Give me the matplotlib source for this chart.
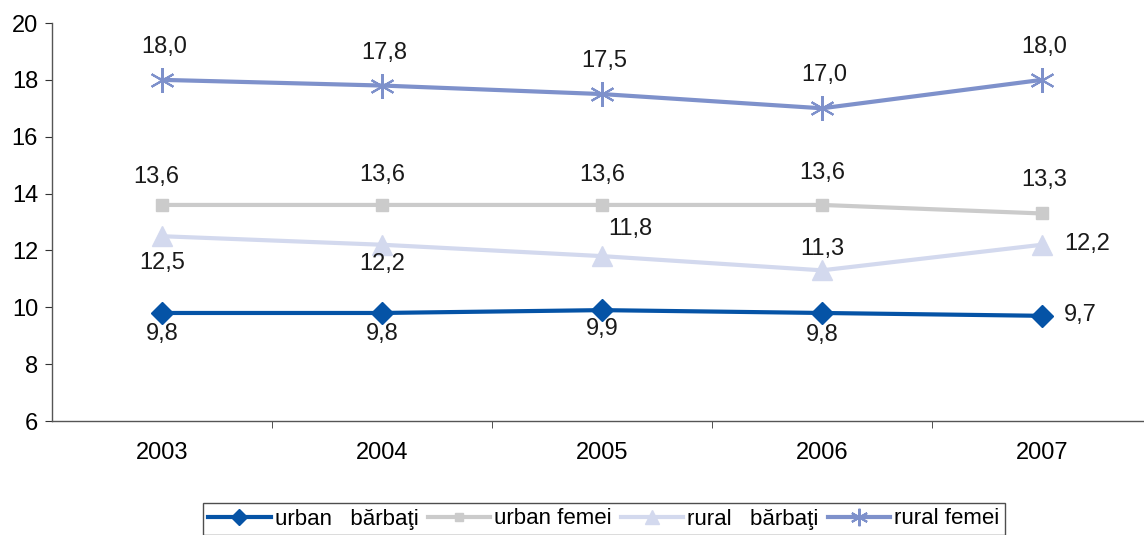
import matplotlib.pyplot as plt
from matplotlib.ticker import FixedLocator

plt.rcParams['font.family'] = ['Liberation Sans', 'DejaVu Sans']

years = ['2003', '2004', '2005', '2006', '2007']
urban_barbati = [9.8, 9.8, 9.9, 9.8, 9.7]
urban_femei = [13.6, 13.6, 13.6, 13.6, 13.3]
rural_barbati = [12.5, 12.2, 11.8, 11.3, 12.2]
rural_femei = [18.0, 17.8, 17.5, 17.0, 18.0]

x = list(range(len(years)))

fig = plt.figure(figsize=(11.44, 5.35), dpi=100)
ax = fig.add_axes([52 / 1144, 1 - 421 / 535, 1 - 52 / 1144, (421 - 23) / 535])

# serii
ax.plot(x, urban_barbati, color='#0553A6', lw=3, marker='D', ms=11, label='urban   bărbaţi', zorder=5)
ax.plot(x, urban_femei, color='#CBCBCB', lw=3, marker='s', ms=8, label='urban femei', zorder=3)
ax.plot(x, rural_barbati, color='#D3D9EE', lw=3, marker='^', ms=15, label='rural   bărbaţi', zorder=4)
ax.plot(x, rural_femei, color='#7E91CB', lw=3, marker=(6, 2, 0), ms=18, mew=1.5, label='rural femei', zorder=3)

# etichete
def fmt(v):
    return f'{v:.1f}'.replace('.', ',')

offs_rf = [(2, 33)] * 5
offs_uf = [(-6, 28), (0, 30), (0, 30), (0, 32), (2, 33)]
offs_rb = [(0, -27), (0, -19), (28, 27), (0, 21), (45, 1)]
offs_ub = [(0, -21), (0, -21), (0, -19), (0, -22), (38, 1)]
for vals, offs in [(rural_femei, offs_rf), (urban_femei, offs_uf),
                   (rural_barbati, offs_rb), (urban_barbati, offs_ub)]:
    for i, v in enumerate(vals):
        ax.annotate(fmt(v), (i, v), textcoords='offset pixels', xytext=offs[i],
                    ha='center', va='center', fontsize=17, color='#1a1a1a', zorder=6)

ax.set_ylim(6, 20)
ax.set_yticks(range(6, 21, 2))
ax.set_xlim(-0.5, (1144 - 52) / 220 - 0.5)
ax.set_xticks(x)
ax.set_xticklabels(years)
ax.xaxis.set_minor_locator(FixedLocator([0.5, 1.5, 2.5, 3.5]))
ax.tick_params(axis='x', which='major', length=0, pad=15, labelsize=17)
ax.tick_params(axis='x', which='minor', length=5, color='#333333')
ax.tick_params(axis='y', length=5, labelsize=17, color='#333333', pad=5)

for s in ['top', 'right']:
    ax.spines[s].set_visible(False)
for s in ['left', 'bottom']:
    ax.spines[s].set_color('#555555')
    ax.spines[s].set_linewidth(1)

leg = fig.legend(loc='center', bbox_to_anchor=(604 / 1144, 1 - 519 / 535), ncol=4,
                 frameon=True, fancybox=False, edgecolor='#222222', fontsize=16,
                 handlelength=2.8, handletextpad=0.2, columnspacing=0.4,
                 borderpad=0.25, markerscale=0.7)
leg.get_frame().set_linewidth(1)

fig.savefig('out.png', dpi=100)
